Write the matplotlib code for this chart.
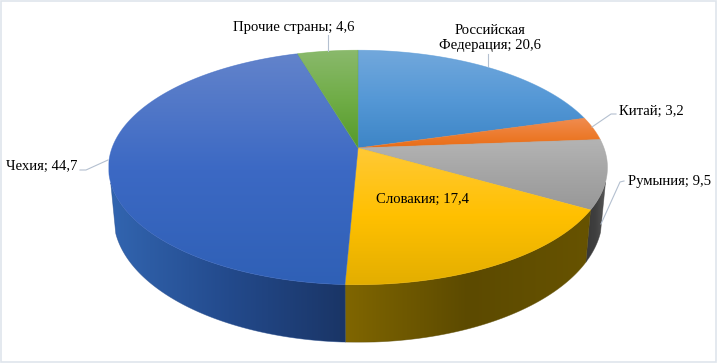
import matplotlib
matplotlib.use("Agg")
import matplotlib.pyplot as plt
import numpy as np
from matplotlib.colors import LinearSegmentedColormap
from matplotlib.patches import Polygon, Rectangle

# Data
countries = ["Российская\nФедерация", "Китай", "Румыния", "Словакия", "Чехия", "Прочие страны"]
shares = [20.6, 3.2, 9.5, 17.4, 44.7, 4.6]

# Gradient colours for each slice, top face goes top to bottom, wall goes left to right
top_colors = [
    ["#72a8dc", "#5598d6", "#3d85c6"],
    ["#f08c50", "#ed7d31", "#e96d15"],
    ["#b4b4b4", "#a5a5a5", "#989898"],
    ["#ffc936", "#ffc000", "#e3ae00"],
    ["#6283cb", "#3c69c4", "#2f60b6"],
    ["#8ab96c", "#70ad47", "#559a2a"],
]
wall_colors = [
    ["#2e5a8a", "#2e5a8a"],
    ["#8a4a1c", "#8a4a1c"],
    ["#383838", "#404040", "#595959"],
    ["#806600", "#5c4a00", "#675300"],
    ["#3265b0", "#234a8c", "#1a3566"],
    ["#3f6428", "#3f6428"],
]

# Label text positions (pixels) and leader lines
label_pos = [(490, 38), (619, 111), (628, 181), (376, 199), (6, 166), (233, 27)]
label_align = ["center", "left", "left", "left", "left", "left"]
leaders = [
    [(488, 54), (488, 66)],
    [(616, 114), (611, 114), (592, 127)],
    [(624, 181), (620, 182), (601, 224)],
    None,
    [(80, 170), (86, 170), (108, 160)],
    [(328, 35), (328, 51)],
]

plt.rcParams["font.family"] = ["Liberation Serif", "DejaVu Serif"]

W, H = 717, 363
fig = plt.figure(figsize=(W / 100, H / 100), dpi=100)
ax = fig.add_axes([0, 0, 1, 1])
ax.set_xlim(0, W)
ax.set_ylim(H, 0)
ax.axis("off")

cx = 358
k = 0.166  # perspective


def project(theta, R, cy, Ry):
    d = 1 + k * np.cos(theta)
    return cx + R * np.sin(theta) / d, cy - Ry * np.cos(theta) / d


def top(theta):
    return project(theta, 246, 148, 114)


def bottom(theta):
    return project(theta, 241, 196, 122)


def gradient_fill(xs, ys, colors, vertical, zorder):
    pts = np.column_stack([xs, ys])
    cmap = LinearSegmentedColormap.from_list("g", colors)
    ramp = np.linspace(0, 1, 256)
    ramp = ramp.reshape(-1, 1) if vertical else ramp.reshape(1, -1)
    im = ax.imshow(ramp, cmap=cmap, vmin=0, vmax=1, aspect="auto", zorder=zorder,
                   extent=[xs.min(), xs.max(), ys.max(), ys.min()], interpolation="bilinear")
    patch = Polygon(pts, closed=True, transform=ax.transData, fc="none", ec="none")
    ax.add_patch(patch)
    im.set_clip_path(patch)
    # thin edge to soften the clip
    ax.add_patch(Polygon(pts, closed=True, fc="none", ec=colors[len(colors) // 2],
                         lw=0.5, alpha=0.6, zorder=zorder))


edges = np.concatenate([[0], np.cumsum(shares)]) / np.sum(shares) * 2 * np.pi

# side walls first
for i in range(len(shares)):
    a0, a1 = edges[i], edges[i + 1]
    # only the front part of the pie shows a wall, ends where the silhouette is tangent
    a0 = max(a0, np.radians(106.5))
    a1 = min(a1, np.radians(253))
    if a1 <= a0:
        continue
    t = np.linspace(a0, a1, 120)
    xt, yt = top(t)
    xb, yb = bottom(t)
    xs = np.concatenate([xt, xb[::-1]])
    ys = np.concatenate([yt, yb[::-1]])
    gradient_fill(xs, ys, wall_colors[i], False, 2)

# top faces
cx0, cy0 = top(0.0)[0], 148
for i in range(len(shares)):
    t = np.linspace(edges[i], edges[i + 1], 160)
    xt, yt = top(t)
    xs = np.concatenate([[cx0], xt])
    ys = np.concatenate([[cy0], yt])
    gradient_fill(xs, ys, top_colors[i], True, 3)

# labels
for i, name in enumerate(countries):
    x, y = label_pos[i]
    ax.text(x, y, f"{name}; {shares[i]:.1f}".replace(".", ","), fontsize=10.6, color="black",
            ha=label_align[i], va="center", multialignment="center", linespacing=1.15, zorder=6)
    if leaders[i]:
        lx, ly = zip(*leaders[i])
        ax.plot(lx, ly, color="#b4c0d0", lw=0.8, zorder=5)

# outer frame
ax.add_patch(Rectangle((1, 1), W - 2, H - 2, fc="none", ec="#dfe5ec", lw=1.2, zorder=7))

ax.set_xlim(0, W)
ax.set_ylim(H, 0)
fig.savefig("out.png", dpi=100)
